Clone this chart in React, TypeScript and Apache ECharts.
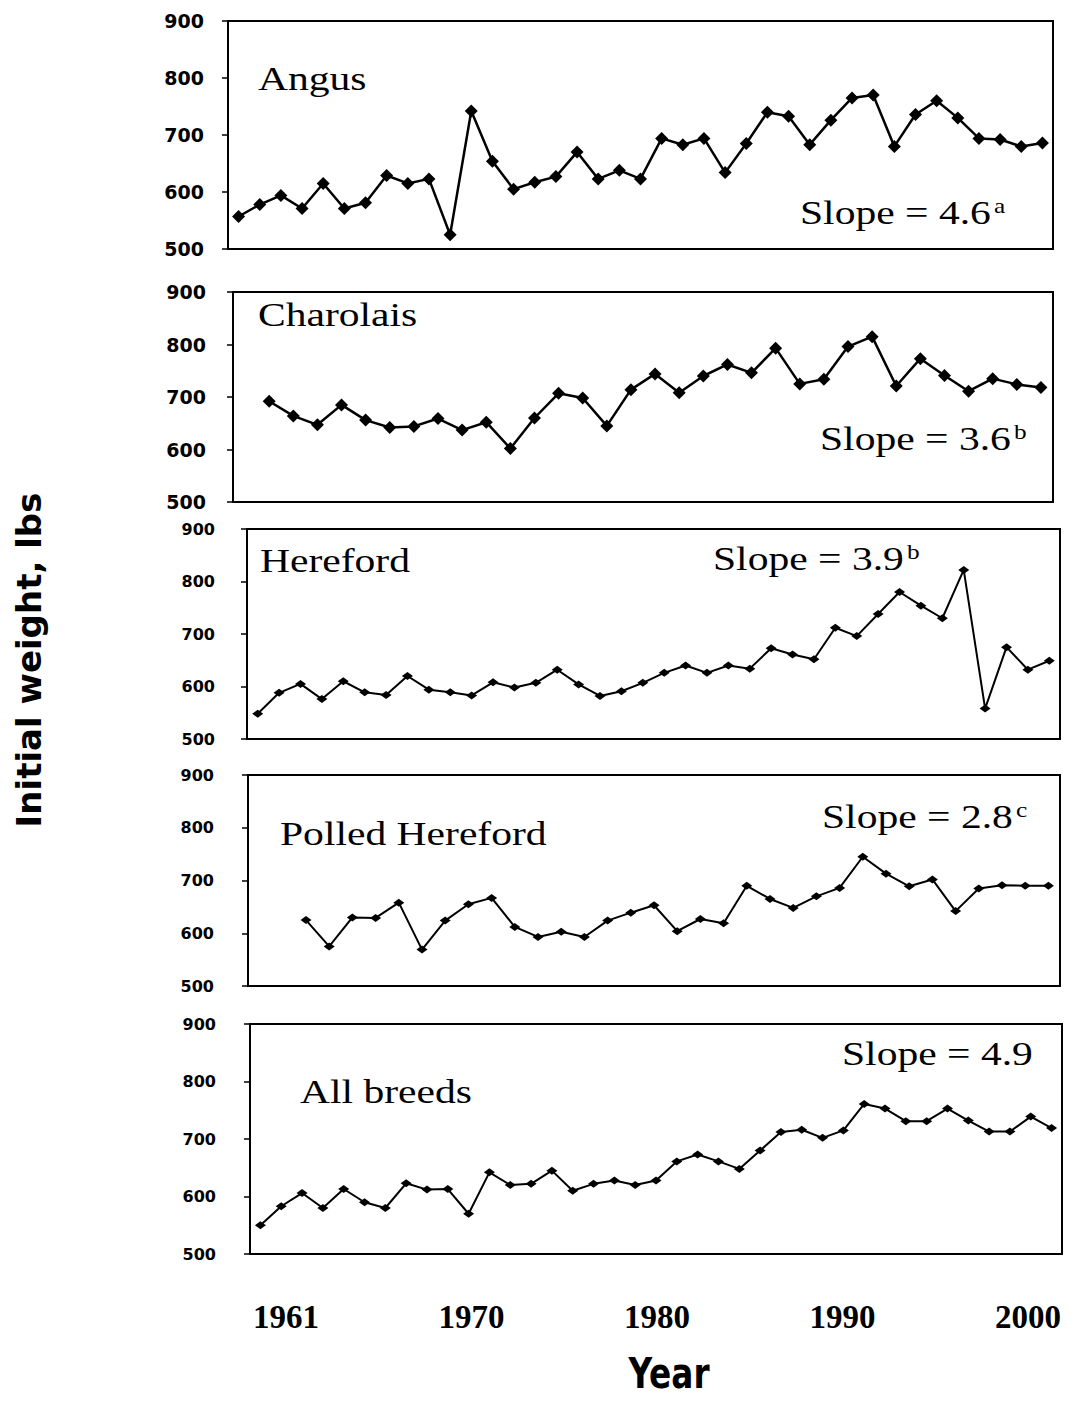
import React, { useEffect, useRef } from "react";
import * as echarts from "echarts";

function yearSpan(first: number, last: number): string[] {
  const out: string[] = [];
  for (let y = first; y <= last; y++) out.push(String(y));
  return out;
}

// ---------- data ----------
const angusYears = yearSpan(1961, 1999);
const angusWeights = [
  557, 578, 594, 571, 615, 571, 581, 629, 615, 623,
  525, 742, 654, 605, 617, 627, 670, 623, 638, 623,
  694, 683, 694, 634, 685, 740, 733, 683, 726, 765,
  770, 680, 736, 760, 730, 694, 692, 680, 686,
];

const charolaisYears = yearSpan(1966, 1999);
const charolaisWeights = [
  null, 692, 664, 647, 685, 656, 642, 644, 659, 637, 652,
  602, 660, 707, 698, 645, 714, 744, 708, 740, 762,
  746, 793, 725, 734, 796, 815, 721, 773, 741, 711,
  735, 724, 718,
];

const herefordYears = yearSpan(1962, 1999);
const herefordWeights = [
  548, 588, 605, 576, 610, 589, 584, 620, 594, 589,
  583, 608, 598, 607, 632, 604, 582, 591, 607, 626,
  640, 626, 640, 634, 673, 661, 652, 712, 696, 738,
  780, 754, 730, 822, 558, 675, 632, 649,
];

const polledYears = yearSpan(1965, 1999);
const polledWeights = [
  null, null, 625, 575, 630, 629, 658, 569, 624, 655, 667,
  612, 593, 603, 593, 624, 639, 653, 604, 627, 619,
  690, 665, 648, 670, 686, 745, 713, 689, 702, 642,
  685, 691, 690, 690,
];

const allYears = yearSpan(1961, 1999);
const allWeights = [
  550, 583, 606, 580, 613, 590, 580, 623, 612, 613,
  570, 642, 620, 622, 645, 610, 622, 628, 620, 628,
  661, 673, 661, 648, 680, 712, 716, 702, 715, 761,
  753, 731, 731, 753, 732, 713, 713, 739, 719,
];

const panelNames = ["Angus", "Charolais", "Hereford", "Polled Hereford", "All breeds"];
const slopeValues = ["4.6", "3.6", "3.9", "2.8", "4.9"];
const slopeMarks = ["a", "b", "b", "c", ""];

const weightMin = 500;
const weightMax = 900;
const weightStep = 100;
const yearTickLabels = ["1961", "1970", "1980", "1990", "2000"];

const yTitle = "Initial weight, lbs";
const xTitle = "Year";

// ---------- layout (positions / styles only) ----------
const layout = [
  { box: { left: 228, top: 21, width: 825, height: 228 }, heavy: true, tickFont: 19, tickMargin: 24, nameAt: [258, 90], slopeAt: [800, 224] },
  { box: { left: 233, top: 292, width: 820, height: 210 }, heavy: true, tickFont: 19, tickMargin: 27, nameAt: [258, 326], slopeAt: [820, 450] },
  { box: { left: 247, top: 529, width: 813, height: 210 }, heavy: false, tickFont: 16, tickMargin: 32, nameAt: [260, 572], slopeAt: [713, 570] },
  { box: { left: 248, top: 775, width: 812, height: 211 }, heavy: false, tickFont: 16, tickMargin: 34, nameAt: [280, 845], slopeAt: [822, 828] },
  { box: { left: 250, top: 1024, width: 812, height: 230 }, heavy: false, tickFont: 16, tickMargin: 34, nameAt: [300, 1103], slopeAt: [842, 1065] },
];

const seriesYears = [angusYears, charolaisYears, herefordYears, polledYears, allYears];
const seriesValues = [angusWeights, charolaisWeights, herefordWeights, polledWeights, allWeights];

const SERIF = '"Liberation Serif", "Times New Roman", serif';
const SANS = '"DejaVu Sans", sans-serif';
const TEXT_SIZE = 33;
const STRETCH = 1.26;

function buildOption() {
  const grid: any[] = [];
  const xAxis: any[] = [];
  const yAxis: any[] = [];
  const series: any[] = [];
  const graphic: any[] = [];

  layout.forEach((p, i) => {
    grid.push({
      left: p.box.left,
      top: p.box.top,
      width: p.box.width,
      height: p.box.height,
      show: true,
      borderColor: "#000",
      borderWidth: 2,
      backgroundColor: "transparent",
      containLabel: false,
    });
    xAxis.push({
      gridIndex: i,
      type: "category",
      data: seriesYears[i],
      boundaryGap: true,
      axisLine: { show: false },
      axisTick: { show: false },
      axisLabel: { show: false },
      splitLine: { show: false },
    });
    yAxis.push({
      gridIndex: i,
      type: "value",
      min: weightMin,
      max: weightMax,
      interval: weightStep,
      axisLine: { show: false },
      axisTick: { show: true, length: 6, lineStyle: { color: "#000", width: 1.5 } },
      axisLabel: {
        margin: p.tickMargin,
        fontFamily: SANS,
        fontWeight: "bold",
        fontSize: p.tickFont,
        color: "#000",
      },
      splitLine: { show: false },
    });
    series.push({
      name: panelNames[i],
      type: "line",
      xAxisIndex: i,
      yAxisIndex: i,
      data: seriesValues[i],
      connectNulls: false,
      showSymbol: true,
      showAllSymbol: true,
      symbol: "diamond",
      symbolSize: p.heavy ? 13 : [11, 8],
      lineStyle: { color: "#000", width: p.heavy ? 2.5 : 2 },
      itemStyle: { color: "#000" },
      emphasis: { disabled: true },
      z: 3,
    });

    const midOffset = TEXT_SIZE * 0.3375;
    graphic.push({
      type: "text",
      x: p.nameAt[0],
      y: p.nameAt[1] - midOffset,
      scaleX: STRETCH,
      style: {
        text: panelNames[i],
        font: `${TEXT_SIZE}px ${SERIF}`,
        fill: "#000",
        textAlign: "left",
        align: "left",
        textVerticalAlign: "middle",
        verticalAlign: "middle",
      },
    });
    graphic.push({
      type: "text",
      x: p.slopeAt[0],
      y: p.slopeAt[1] - midOffset,
      scaleX: STRETCH,
      style: {
        text: `Slope = ${slopeValues[i]}`,
        font: `${TEXT_SIZE}px ${SERIF}`,
        fill: "#000",
        textAlign: "left",
        align: "left",
        textVerticalAlign: "middle",
        verticalAlign: "middle",
      },
    });
    if (slopeMarks[i]) {
      graphic.push({
        type: "text",
        x: p.slopeAt[0] + 194,
        y: p.slopeAt[1] - 18,
        scaleX: 1.15,
        style: {
          text: slopeMarks[i],
          font: `22px ${SERIF}`,
          fill: "#000",
          textAlign: "left",
          align: "left",
          textVerticalAlign: "middle",
          verticalAlign: "middle",
        },
      });
    }
  });

  // label axis for the years under the last panel
  grid.push({ left: 286, width: 742, top: 1246, height: 10, show: false });
  xAxis.push({
    gridIndex: 5,
    type: "category",
    data: yearTickLabels,
    boundaryGap: false,
    axisLine: { show: false },
    axisTick: { show: false },
    splitLine: { show: false },
    axisLabel: {
      interval: 0,
      margin: 44,
      fontFamily: SERIF,
      fontWeight: "bold",
      fontSize: 33,
      color: "#000",
    },
  });
  yAxis.push({ gridIndex: 5, type: "value", show: false });

  graphic.push({
    type: "text",
    x: 29,
    y: 660,
    rotation: Math.PI / 2,
    style: {
      text: yTitle,
      font: `bold 34px ${SANS}`,
      fill: "#000",
      textAlign: "center",
      align: "center",
      textVerticalAlign: "middle",
      verticalAlign: "middle",
    },
  });
  graphic.push({
    type: "text",
    x: 669,
    y: 1374,
    scaleX: 0.78,
    style: {
      text: xTitle,
      font: `bold 42px ${SANS}`,
      fill: "#000",
      textAlign: "center",
      align: "center",
      textVerticalAlign: "middle",
      verticalAlign: "middle",
    },
  });

  return {
    animation: false,
    backgroundColor: "#fff",
    grid,
    xAxis,
    yAxis,
    series,
    graphic,
  };
}

export default function App() {
  const ref = useRef<HTMLDivElement>(null);
  useEffect(() => {
    if (!ref.current) return;
    const chart = echarts.init(ref.current, undefined, { renderer: "svg" });
    chart.setOption(buildOption() as any);
    return () => chart.dispose();
  }, []);
  return (
    <div
      ref={ref}
      style={{ position: "absolute", left: 0, top: 0, width: 1073, height: 1401, background: "#fff" }}
    />
  );
}
